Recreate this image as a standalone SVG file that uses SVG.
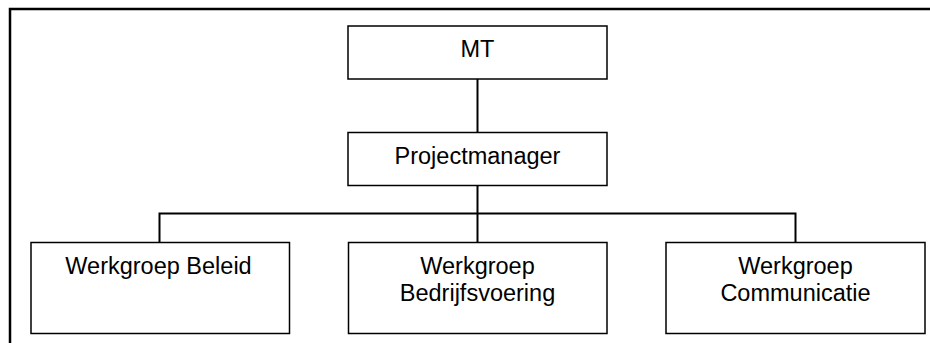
<svg xmlns="http://www.w3.org/2000/svg" width="930" height="343" viewBox="0 0 930 343">
<style>
.box{fill:#fff;stroke:#000;stroke-width:1.5}
.lbl{font-family:"Liberation Sans",Arial,sans-serif;font-size:23.5px;fill:#000;text-anchor:middle}
.con{fill:none;stroke:#000;stroke-width:2}
</style>
<rect x="0" y="0" width="930" height="343" fill="#fff"/>
<rect x="10" y="9" width="1000" height="400" fill="none" stroke="#000" stroke-width="2.5"/>
<g id="connectors">
<line class="con" x1="477.5" y1="79" x2="477.5" y2="132.5"/>
<line class="con" x1="477.5" y1="185.5" x2="477.5" y2="242.5"/>
<polyline class="con" points="159.5,242.5 159.5,213.5 795.5,213.5 795.5,242.5"/>
</g>
<g id="mt">
<rect class="box" x="348" y="26" width="259" height="53"/>
<text class="lbl" x="477.5" y="57.3">MT</text>
</g>
<g id="projectmanager">
<rect class="box" x="348" y="132.5" width="259" height="53"/>
<text class="lbl" x="477.5" y="164">Projectmanager</text>
</g>
<g id="beleid">
<rect class="box" x="31" y="242.5" width="258.5" height="91"/>
<text class="lbl" x="158.5" y="274.3">Werkgroep Beleid</text>
</g>
<g id="bedrijfsvoering">
<rect class="box" x="348.5" y="242.5" width="258.5" height="91"/>
<text class="lbl" x="477.5" y="274">Werkgroep</text>
<text class="lbl" x="477.5" y="301">Bedrijfsvoering</text>
</g>
<g id="communicatie">
<rect class="box" x="666" y="242.5" width="259" height="91"/>
<text class="lbl" x="795.5" y="274">Werkgroep</text>
<text class="lbl" x="795.5" y="301">Communicatie</text>
</g>
</svg>
